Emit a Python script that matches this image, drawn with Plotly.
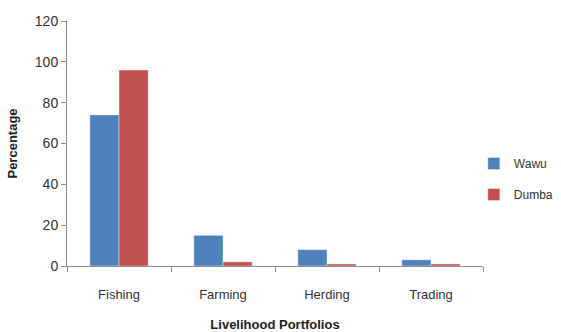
import plotly.graph_objects as go

categories = ["Fishing", "Farming", "Herding", "Trading"]
wawu = [74, 15, 8, 3]
dumba = [96, 2, 1, 1]
y_ticks = [0, 20, 40, 60, 80, 100, 120]

font_family = "Liberation Sans Narrow, Liberation Sans, Arial"

fig = go.Figure()
fig.add_trace(go.Bar(x=categories, y=wawu, name="Wawu", marker_color="#4F81BD",
                     legendgroup="a"))
fig.add_trace(go.Bar(x=categories, y=dumba, name="Dumba", marker_color="#C0504D",
                     legendgroup="b"))

fig.update_layout(
    width=561, height=332,
    margin=dict(l=67, r=78, t=21, b=66, autoexpand=False),
    paper_bgcolor="white", plot_bgcolor="white",
    barmode="group", bargap=0.44, bargroupgap=0,
    font=dict(family=font_family, size=13, color="#333333"),
    legend=dict(x=0.978, xanchor="left", y=0.355, yanchor="middle",
                font=dict(size=12, color="#333333"),
                tracegroupgap=12, bgcolor="rgba(0,0,0,0)"),
    showlegend=True,
)
fig.update_xaxes(
    showline=True, linecolor="#8C8C8C", linewidth=1,
    ticks="outside", tickson="boundaries", ticklen=5, tickcolor="#8C8C8C",
    ticklabelstandoff=16,
    showgrid=False,
    title=dict(text="<b>Livelihood Portfolios</b>", font=dict(size=13, color="#222222"),
               standoff=21),
)
fig.update_yaxes(
    range=[0, 120], tickvals=y_ticks,
    showline=True, linecolor="#8C8C8C", linewidth=1,
    ticks="outside", ticklen=5, tickcolor="#8C8C8C",
    showgrid=False, zeroline=False,
    tickfont=dict(size=14, color="#333333"),
    title=dict(text="<b>Percentage</b>", font=dict(size=13, color="#222222"),
               standoff=14),
)

fig.write_html("out.html")
